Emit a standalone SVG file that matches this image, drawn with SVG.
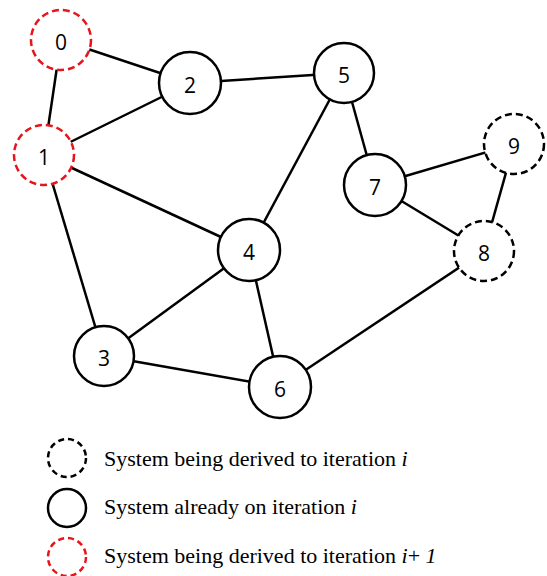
<svg xmlns="http://www.w3.org/2000/svg" width="547" height="576" viewBox="0 0 547 576">
<style>
.n{fill:#fff;stroke:#000;stroke-width:2.5}
.d{stroke-dasharray:7 4}
.r{stroke:#e8141c}
.lbl{font-family:"Open Sans","Liberation Sans",sans-serif;font-size:21px;text-anchor:middle;dominant-baseline:central}
.e line{stroke:#000;stroke-width:2.5}
.lg{font-family:"Liberation Serif",serif;font-size:22px}
</style>
<rect width="547" height="576" fill="#fff"/>
<g id="edges" class="e">
<line x1="61" y1="40" x2="190" y2="83"/>
<line x1="61" y1="40" x2="44" y2="155"/>
<line x1="44" y1="155" x2="190" y2="83"/>
<line x1="44" y1="155" x2="249" y2="250"/>
<line x1="44" y1="155" x2="104" y2="356"/>
<line x1="190" y1="83" x2="344" y2="73"/>
<line x1="344" y1="73" x2="249" y2="250"/>
<line x1="344" y1="73" x2="375" y2="185"/>
<line x1="375" y1="185" x2="514" y2="144"/>
<line x1="375" y1="185" x2="484" y2="251"/>
<line x1="514" y1="144" x2="484" y2="251"/>
<line x1="484" y1="251" x2="280" y2="387"/>
<line x1="249" y1="250" x2="104" y2="356"/>
<line x1="249" y1="250" x2="280" y2="387"/>
<line x1="104" y1="356" x2="280" y2="387"/>
</g>
<g id="node0"><circle class="n d r" cx="61" cy="40" r="30"/><text class="lbl" x="61" y="42">0</text></g>
<g id="node1"><circle class="n d r" cx="44" cy="155" r="30"/><text class="lbl" x="44" y="157">1</text></g>
<g id="node2"><circle class="n" cx="190" cy="83" r="31"/><text class="lbl" x="190" y="85">2</text></g>
<g id="node3"><circle class="n" cx="104" cy="356" r="30"/><text class="lbl" x="104" y="358">3</text></g>
<g id="node4"><circle class="n" cx="249" cy="250" r="31"/><text class="lbl" x="249" y="252">4</text></g>
<g id="node5"><circle class="n" cx="344" cy="73" r="30"/><text class="lbl" x="344" y="75">5</text></g>
<g id="node6"><circle class="n" cx="280" cy="387" r="31"/><text class="lbl" x="280" y="389">6</text></g>
<g id="node7"><circle class="n" cx="375" cy="185" r="31"/><text class="lbl" x="375" y="187">7</text></g>
<g id="node8"><circle class="n d" cx="484" cy="251" r="30"/><text class="lbl" x="484" y="253">8</text></g>
<g id="node9"><circle class="n d" cx="514" cy="144" r="30"/><text class="lbl" x="514" y="146">9</text></g>
<g id="legend">
<circle class="n d" cx="67" cy="458" r="19" style="stroke-dasharray:6 4"/>
<text class="lg" x="104" y="466">System being derived to iteration <tspan font-style="italic">i</tspan></text>
<circle class="n" cx="67" cy="508" r="19"/>
<text class="lg" x="104" y="514">System already on iteration <tspan font-style="italic">i</tspan></text>
<circle class="n d r" cx="67" cy="557" r="19" style="stroke-dasharray:6 4"/>
<text class="lg" x="104" y="563">System being derived to iteration <tspan font-style="italic">i</tspan>+ <tspan font-style="italic">1</tspan></text>
</g>
</svg>
